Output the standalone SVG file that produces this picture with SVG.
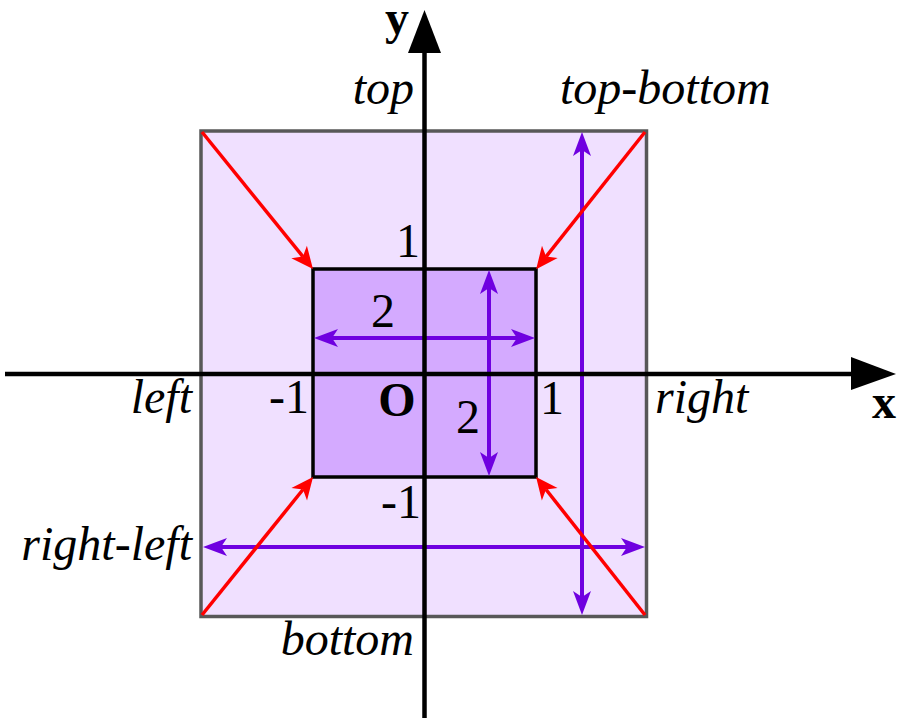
<svg xmlns="http://www.w3.org/2000/svg" width="898" height="718" viewBox="0 0 898 718">
<style>
text{font-family:"Liberation Serif","DejaVu Serif","Noto Serif",serif;font-size:48px;fill:#000}
.it{font-style:italic}
.bd{font-weight:bold}
.red{stroke:#ff0000;stroke-width:3.5;fill:none;marker-end:url(#redHead)}
.pur{stroke:#6f00e0;stroke-width:4;fill:none;marker-start:url(#purHead);marker-end:url(#purHead)}
.axis{stroke:#000;stroke-width:4.5;fill:none}
</style>
<defs>
<marker id="redHead" markerUnits="userSpaceOnUse" markerWidth="22" markerHeight="20" refX="6" refY="10" orient="auto" overflow="visible">
<path d="M0,0 L22,10 L0,20 L6,10 z" fill="#ff0000"/>
</marker>
<marker id="purHead" markerUnits="userSpaceOnUse" markerWidth="24" markerHeight="18" refX="6" refY="9" orient="auto-start-reverse" overflow="visible">
<path d="M0,0 L24,9 L0,18 L6,9 z" fill="#6f00e0"/>
</marker>
</defs>
<rect width="898" height="718" fill="#ffffff"/>
<g id="outer-box">
<rect x="201" y="131" width="445.5" height="485.5" fill="#f0e0ff" stroke="#585858" stroke-width="3.5"/>
</g>
<g id="inner-box">
<rect x="313" y="269" width="223" height="208" fill="#d4aaff" stroke="#000" stroke-width="3.5"/>
</g>
<g id="connectors">
<line class="pur" x1="332" y1="338" x2="517" y2="338"/>
<line class="pur" x1="489" y1="288" x2="489" y2="458"/>
<line class="pur" x1="582" y1="150" x2="582" y2="597"/>
<line class="pur" x1="221" y1="547" x2="627" y2="547"/>
<line class="red" x1="202" y1="132" x2="302.9" y2="256.6"/>
<line class="red" x1="645" y1="132" x2="546.1" y2="256.6"/>
<line class="red" x1="202" y1="615" x2="303" y2="489.5"/>
<line class="red" x1="645" y1="615" x2="546" y2="489.5"/>
</g>
<g id="y-axis">
<line class="axis" x1="424.5" y1="718" x2="424.5" y2="50"/>
<polygon points="408,53 441,53 424.5,10" fill="#000"/>
<text class="bd" x="397" y="34" text-anchor="middle" font-family="Liberation Serif, DejaVu Serif, serif">y</text>
</g>
<g id="x-axis">
<line class="axis" x1="5" y1="374" x2="853" y2="374"/>
<polygon points="851,357 851,390 896,374" fill="#000"/>
<text class="bd" x="884" y="418" text-anchor="middle" font-family="Liberation Serif, DejaVu Serif, serif">x</text>
</g>
<g id="labels" font-family="Liberation Serif, DejaVu Serif, serif">
<text class="it" x="414" y="104" text-anchor="end">top</text>
<text class="it" x="560" y="104">top-bottom</text>
<text class="it" x="192" y="413" text-anchor="end">left</text>
<text class="it" x="655" y="413">right</text>
<text class="it" x="192" y="560" text-anchor="end">right-left</text>
<text class="it" x="414" y="655" text-anchor="end">bottom</text>
<text x="420" y="257" text-anchor="end">1</text>
<text x="309" y="413" text-anchor="end">-1</text>
<text x="540" y="414">1</text>
<text x="421" y="518" text-anchor="end">-1</text>
<text x="383" y="327" text-anchor="middle">2</text>
<text x="468" y="433" text-anchor="middle">2</text>
<text class="bd" x="397" y="416" text-anchor="middle">O</text>
</g>
</svg>
